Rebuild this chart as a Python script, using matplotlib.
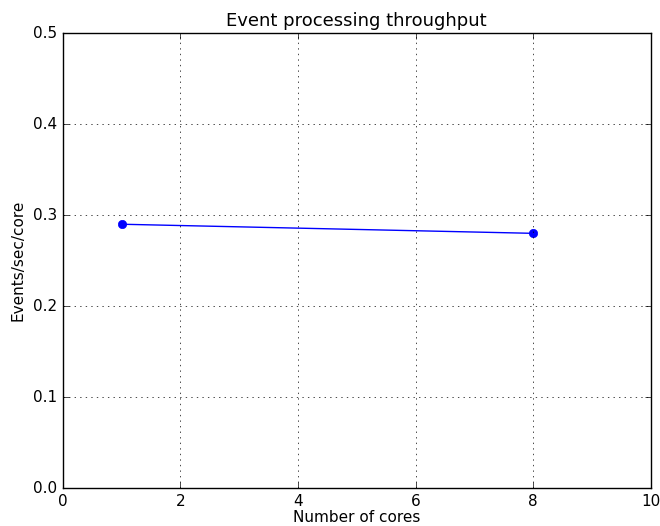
import matplotlib
matplotlib.use("Agg")
import matplotlib.pyplot as plt

plt.style.use('classic')

cores = [1, 8]
throughput = [0.29, 0.28]

fig = plt.figure(figsize=(6.6, 5.26), dpi=100, facecolor='white')
ax = fig.add_axes([0.095, 0.072, 0.891, 0.865])
ax.plot(cores, throughput, 'bo-', markersize=6, markeredgecolor='b')
ax.set_xlim(0, 10)
ax.set_ylim(0, 0.5)
ax.grid(True)
ax.set_title("Event processing throughput", fontsize=13)
ax.set_xlabel("Number of cores", fontsize=11, labelpad=1)
ax.set_ylabel("Events/sec/core", fontsize=11)
ax.tick_params(labelsize=11)
fig.savefig("out.png", dpi=100, facecolor='white')
